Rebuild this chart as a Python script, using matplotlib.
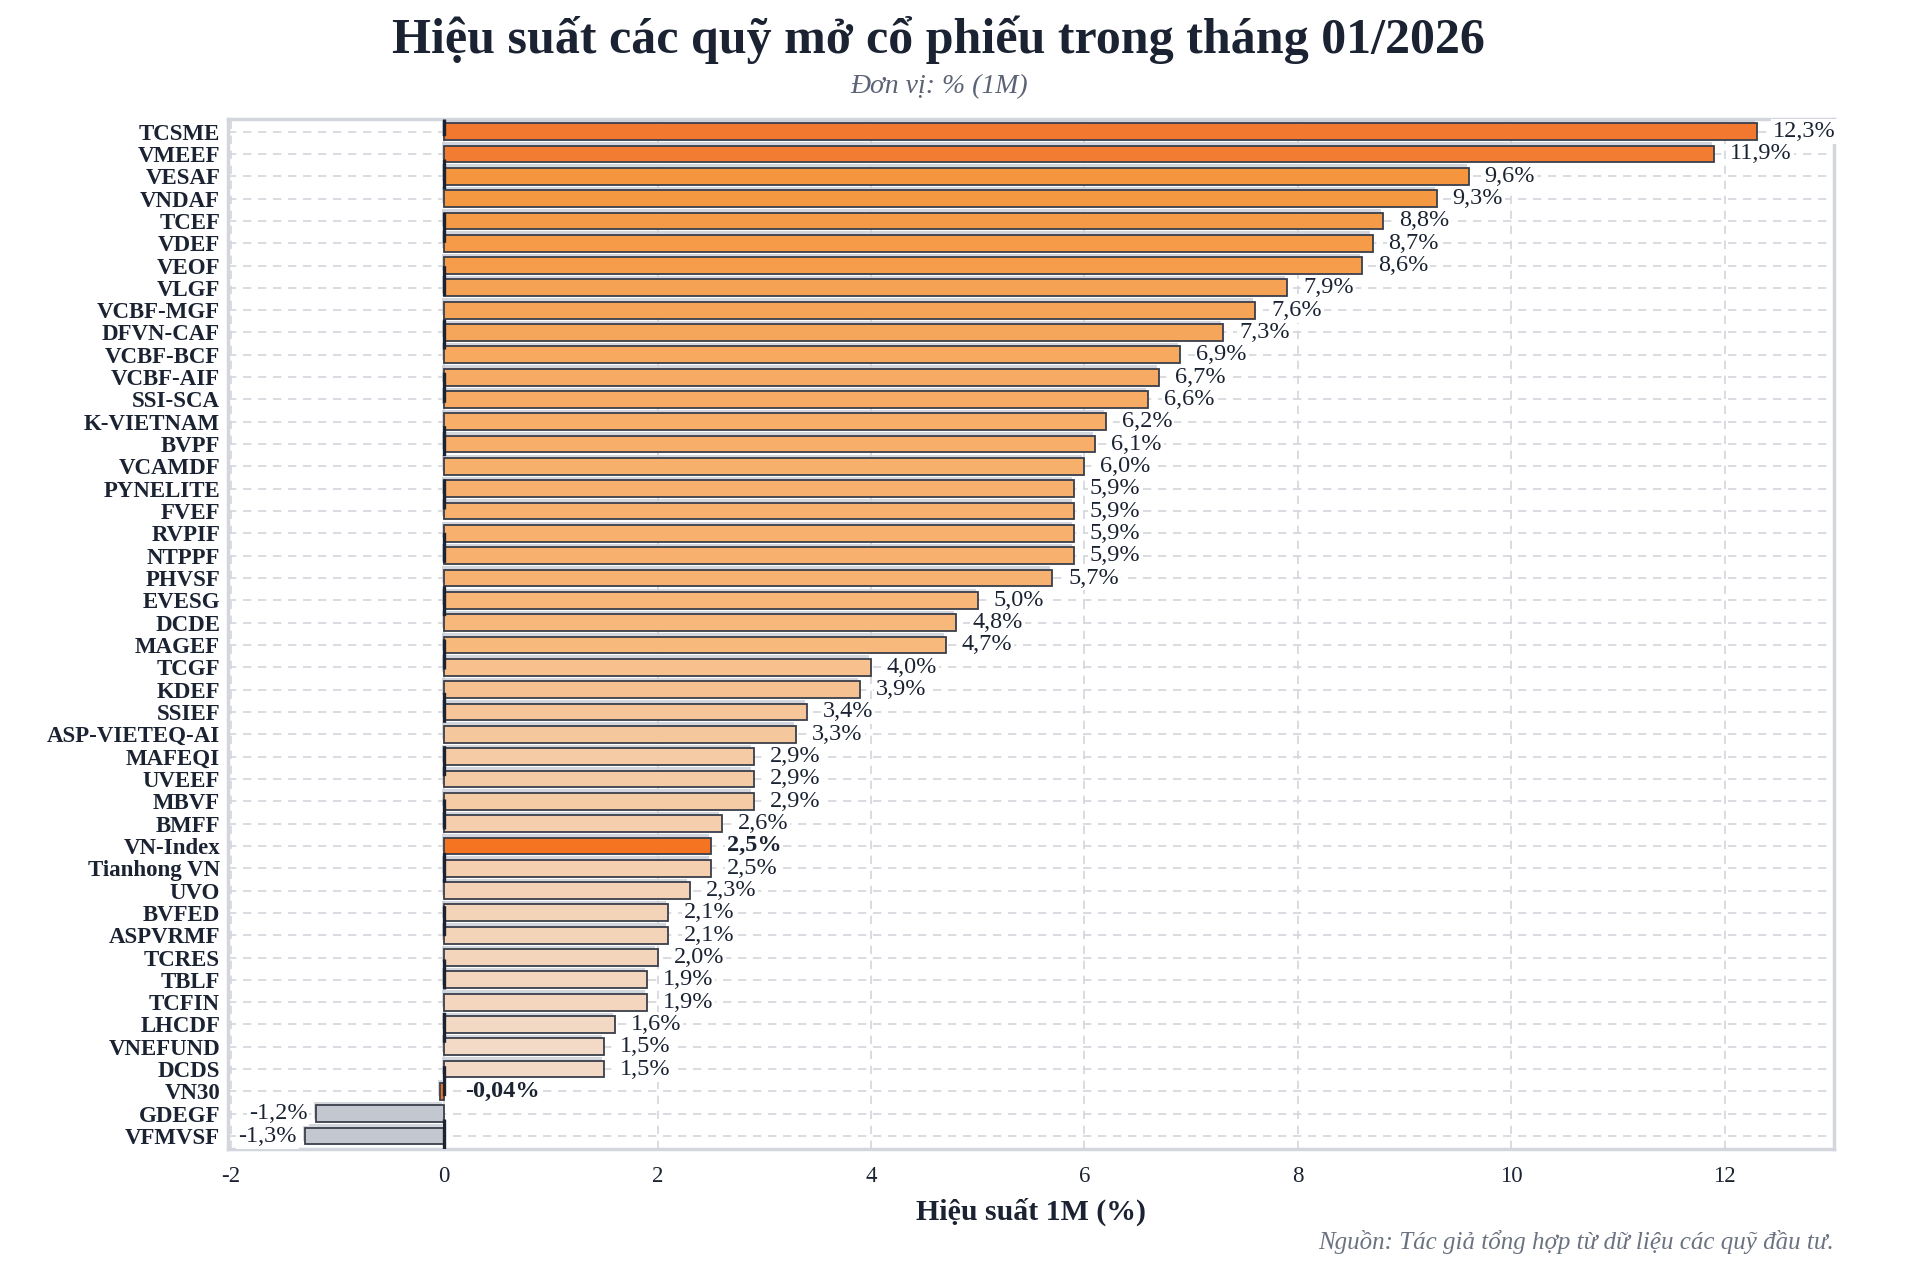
import numpy as np
import matplotlib
matplotlib.use("Agg")
import matplotlib.pyplot as plt
from matplotlib import rcParams
from matplotlib.colors import LinearSegmentedColormap, Normalize
import matplotlib.patheffects as pe

# data (top to bottom)
funds = ["TCSME", "VMEEF", "VESAF", "VNDAF", "TCEF", "VDEF", "VEOF", "VLGF",
         "VCBF-MGF", "DFVN-CAF", "VCBF-BCF", "VCBF-AIF", "SSI-SCA", "K-VIETNAM",
         "BVPF", "VCAMDF", "PYNELITE", "FVEF", "RVPIF", "NTPPF", "PHVSF", "EVESG",
         "DCDE", "MAGEF", "TCGF", "KDEF", "SSIEF", "ASP-VIETEQ-AI", "MAFEQI",
         "UVEEF", "MBVF", "BMFF", "VN-Index", "Tianhong VN", "UVO", "BVFED",
         "ASPVRMF", "TCRES", "TBLF", "TCFIN", "LHCDF", "VNEFUND", "DCDS", "VN30",
         "GDEGF", "VFMVSF"]
perf = [12.3, 11.9, 9.6, 9.3, 8.8, 8.7, 8.6, 7.9, 7.6, 7.3, 6.9, 6.7, 6.6, 6.2,
        6.1, 6.0, 5.9, 5.9, 5.9, 5.9, 5.7, 5.0, 4.8, 4.7, 4.0, 3.9, 3.4, 3.3, 2.9,
        2.9, 2.9, 2.6, 2.5, 2.5, 2.3, 2.1, 2.1, 2.0, 1.9, 1.9, 1.6, 1.5, 1.5,
        -0.04, -1.2, -1.3]
benchmarks = ["VN-Index", "VN30"]
xticks = [-2, 0, 2, 4, 6, 8, 10, 12]

DARK = "#1b2333"
GRID = "#d3d6dd"

rcParams['font.family'] = ['Liberation Serif', 'DejaVu Serif']

fig = plt.figure(figsize=(19.2, 12.76), dpi=100)
ax = fig.add_axes([0.119, 0.0995, 0.836, 0.807])

cmap = LinearSegmentedColormap.from_list(
    "peach", [(0.0, "#f2dac6"), (0.30, "#f8b87c"), (0.75, "#f5963e"), (1.0, "#f27830")])
norm = Normalize(vmin=1.5, vmax=12.3)

colors = []
for name, v in zip(funds, perf):
    if name in benchmarks:
        colors.append("#f47421")
    elif v < 0:
        colors.append("#c3c7cf")
    else:
        colors.append(cmap(norm(v)))

y = np.arange(len(funds))
bars = ax.barh(y, perf, height=0.75, color=colors, edgecolor="#3a3f4b",
               linewidth=1.3, zorder=3)
for b in bars:
    b.set_path_effects([pe.SimplePatchShadow(offset=(-1.5, 2.5), shadow_rgbFace="#c9cdd5",
                                             alpha=0.8), pe.Normal()])

# zero line
ax.axvline(0, color=DARK, lw=2.4, linestyle=(0, (9, 7)), zorder=4)

for yi, name, v in zip(y, funds, perf):
    txt = ("%.2f" % v if abs(v) < 0.1 else "%.1f" % v).replace(".", ",") + "%"
    bold = name in benchmarks
    if v >= 0:
        x, ha = v + 0.15, "left"
    else:
        x, ha = v - 0.08, "right"
    if name == "VN30":
        x, ha = 0.2, "left"
    ax.text(x, yi, txt, ha=ha, va="center", fontsize=17.5, color=DARK,
            fontweight="bold" if bold else "normal", zorder=5, clip_on=False,
            bbox=dict(boxstyle="square,pad=0.08", fc="white", ec="none"))

ax.set_yticks(y)
ax.set_yticklabels(funds, fontsize=16.5, fontweight="bold", color=DARK)
ax.set_ylim(len(funds) - 0.42, -0.55)
ax.set_xlim(min(perf) - 0.72, max(perf) + 0.72)
ax.set_xticks(xticks)
ax.set_xticklabels([str(t) for t in xticks], fontsize=16.5, color=DARK)
ax.tick_params(length=0, pad=6)
ax.tick_params(axis="x", pad=12)

ax.grid(True, color=GRID, linestyle=(0, (5, 4)), linewidth=1.2, zorder=0)
ax.set_axisbelow(True)
for s in ax.spines.values():
    s.set_color(GRID)
    s.set_linewidth(2.5)

ax.set_xlabel("Hiệu suất 1M (%)", fontsize=21.5, fontweight="bold", color=DARK, labelpad=8)

fig.text(0.489, 0.969, "Hiệu suất các quỹ mở cổ phiếu trong tháng 01/2026",
         ha="center", va="center", fontsize=36, fontweight="bold", color=DARK)
fig.text(0.489, 0.932, "Đơn vị: % (1M)", ha="center", va="center",
         fontsize=20, style="italic", color="#5b6374")
fig.text(0.955, 0.027, "Nguồn: Tác giả tổng hợp từ dữ liệu các quỹ đầu tư.",
         ha="right", va="center", fontsize=18, style="italic", color="#6b7280")

plt.savefig("out.png", dpi=100)
